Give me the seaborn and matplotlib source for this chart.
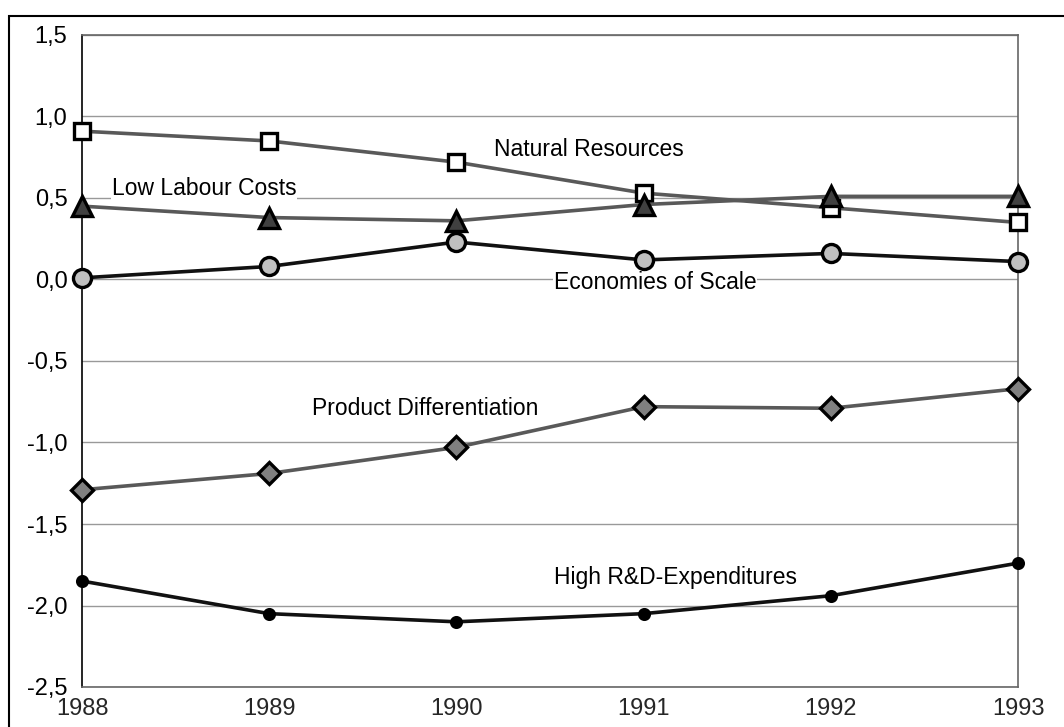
import numpy as np
import pandas as pd
import matplotlib
matplotlib.use("Agg")
import matplotlib.pyplot as plt
import seaborn as sns

sns.set_style("white")
plt.rcParams['font.family'] = ['Liberation Sans', 'DejaVu Sans']

years = [1988, 1989, 1990, 1991, 1992, 1993]
natural_resources = [0.91, 0.85, 0.72, 0.53, 0.44, 0.35]
low_labour_costs = [0.45, 0.38, 0.36, 0.46, 0.51, 0.51]
economies_of_scale = [0.01, 0.08, 0.23, 0.12, 0.16, 0.11]
product_diff = [-1.29, -1.19, -1.03, -0.78, -0.79, -0.67]
high_rd = [-1.85, -2.05, -2.10, -2.05, -1.94, -1.74]

names = ["Natural Resources", "Low Labour Costs", "Economies of Scale",
         "Product Differentiation", "High R&D-Expenditures"]
series = [natural_resources, low_labour_costs, economies_of_scale, product_diff, high_rd]

df = pd.DataFrame({"year": np.tile(years, len(names)),
                   "value": np.concatenate(series),
                   "factor": np.repeat(names, len(years))})

# line colour, marker, marker face, marker size
styles = {
    "Natural Resources": ("#595959", "s", "white", 12),
    "Low Labour Costs": ("#595959", "^", "#404040", 14),
    "Economies of Scale": ("#111111", "o", "#c0c0c0", 13),
    "Product Differentiation": ("#595959", "D", "#808080", 11),
    "High R&D-Expenditures": ("#111111", "o", "black", 7),
}

fig = plt.figure(figsize=(10.64, 7.27), dpi=100)
ax = fig.add_axes([82 / 1064, 1 - 687 / 727, (1018 - 82) / 1064, (687 - 35) / 727])

for name in names:
    col, mk, face, ms = styles[name]
    sns.lineplot(data=df[df.factor == name], x="year", y="value", ax=ax,
                 color=col, lw=2.6, marker=mk, markersize=ms,
                 markerfacecolor=face, markeredgecolor="black",
                 markeredgewidth=2.4, legend=False, zorder=3)
for ln in ax.lines:
    ln.set_clip_on(False)

ax.set_xlim(1988, 1993)
ax.set_ylim(-2.5, 1.5)
yt = np.arange(-2.5, 1.51, 0.5)
ax.set_yticks(yt)
ax.set_yticklabels([f"{v:.1f}".replace(".", ",") for v in yt])
ax.set_xticks(years)
ax.set_xticklabels([str(y) for y in years])
ax.yaxis.grid(True, color="#999999", lw=1)
ax.xaxis.grid(False)
ax.set_xlabel("")
ax.set_ylabel("")
ax.tick_params(axis="y", direction="inout", length=17, width=1, colors="black",
               labelsize=17, pad=2)
ax.tick_params(axis="x", direction="in", length=0, labelsize=17, pad=8)
for sp in ["top", "right", "bottom"]:
    ax.spines[sp].set_color("#666666")
    ax.spines[sp].set_linewidth(1.2)
ax.spines["left"].set_color("black")
ax.spines["left"].set_linewidth(1.2)

labels = [("Natural Resources", 1990.2, 0.80),
          ("Low Labour Costs", 1988.16, 0.56),
          ("Economies of Scale", 1990.52, -0.02),
          ("Product Differentiation", 1989.23, -0.79),
          ("High R&D-Expenditures", 1990.52, -1.83)]
for txt, x, y in labels:
    ax.text(x, y, txt, fontsize=16.5, ha="left", va="center", color="black",
            zorder=2, bbox=dict(facecolor="white", edgecolor="none", pad=0.5))

# outer frame of the chart
fig.add_artist(plt.Rectangle((9 / 1064, -0.05), 1.2, 1 - 16 / 727 + 0.05,
                             transform=fig.transFigure, fill=False,
                             edgecolor="black", lw=1.5))

fig.savefig("out.png", dpi=100, facecolor="white")
